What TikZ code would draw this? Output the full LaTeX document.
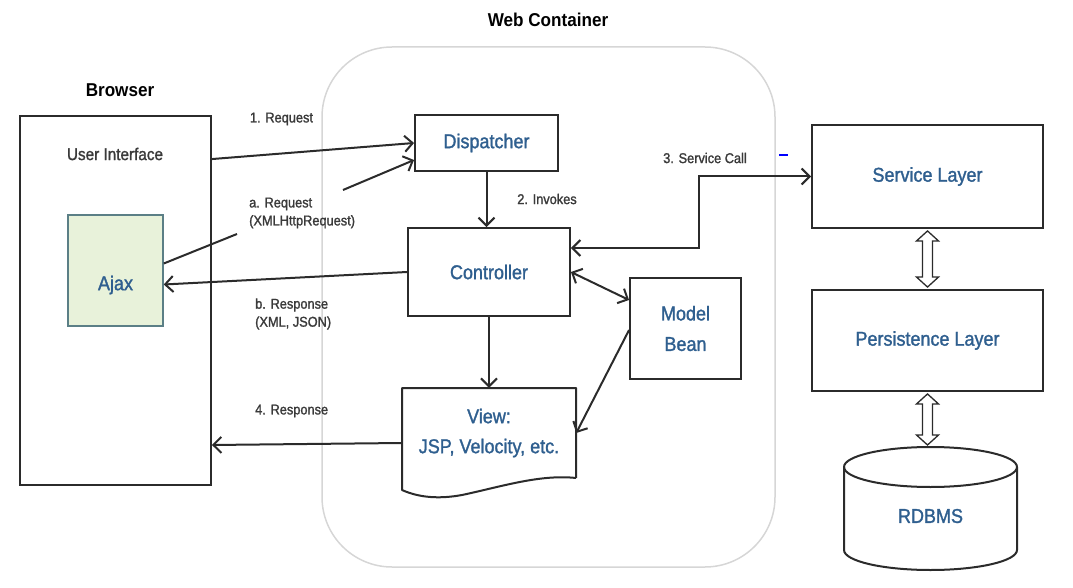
\documentclass[tikz,border=0pt]{standalone}
\usepackage{fontspec}
\setmainfont{Liberation Sans}[FakeStretch=0.92]
\newfontfamily\medfont{Liberation Sans}[FakeStretch=0.9,FakeBold=1.4]
\usetikzlibrary{arrows.meta,calc}
\definecolor{ink}{HTML}{2B2B2B}
\definecolor{lblc}{HTML}{3A3A3A}
\definecolor{nblue}{HTML}{2F5F8F}
\definecolor{ajaxfill}{HTML}{E8F2DA}
\definecolor{ajaxline}{HTML}{5B7F86}
\definecolor{contc}{HTML}{D6D6D6}
\newcommand\hollowdbl[2]{%
  \draw[draw=ink,line width=1.3pt,fill=white] let \p1=(#1), \p2=(#2) in
  (\x1,\y1-2pt) -- (\x1+11pt,\y1-12pt) -- (\x1+5pt,\y1-12pt) -- (\x1+5pt,\y2+12pt)
  -- (\x1+11pt,\y2+12pt) -- (\x1,\y2+2pt) -- (\x1-11pt,\y2+12pt) -- (\x1-5pt,\y2+12pt)
  -- (\x1-5pt,\y1-12pt) -- (\x1-11pt,\y1-12pt) -- cycle;}
\begin{document}
\begin{tikzpicture}[x=1pt,y=-1pt,
  box/.style={draw=ink,line width=1.9pt,fill=white,inner sep=0pt,align=center,
    text=nblue,font=\medfont\fontsize{20}{30.5}\selectfont},
  ntext/.style={text=nblue,font=\medfont\fontsize{20}{30}\selectfont,inner sep=0pt},
  lbl/.style={text=lblc,font=\medfont\fontsize{14.2}{18}\selectfont,inner sep=0pt,align=left},
  ttl/.style={font=\bfseries\fontsize{18.6}{22}\selectfont,text=black,inner sep=0pt},
  arr/.style={draw=ink,line width=2pt,-{Straight Barb[length=8pt,width=16pt]}},
  darr/.style={draw=ink,line width=2pt,{Straight Barb[length=8pt,width=16pt]}-{Straight Barb[length=8pt,width=16pt]}},
  ln/.style={draw=ink,line width=2pt}]
\useasboundingbox (0,0) rectangle (1073,588);

% web container
\draw[contc,line width=1.5pt,rounded corners=70pt] (322,47) rectangle (775,567);
\node[ttl] (wct) at (548,20) {Web Container};

% browser
\node[ttl] (brt) at (120,90) {Browser};
\node[box,minimum width=191pt,minimum height=369pt] (browser) at (115.5,300.5) {};
\node[text=lblc,font=\medfont\fontsize{17}{20}\selectfont,inner sep=0pt] (ui) at (115,154) {User Interface};
\node[box,draw=ajaxline,fill=ajaxfill,line width=1.5pt,minimum width=95pt,minimum height=111pt] (ajax) at (115.5,270.5) {};
\node[ntext] (ajaxt) at (115.5,285) {Ajax};

% web container nodes
\node[box,minimum width=143pt,minimum height=56pt] (disp) at (486.5,143) {Dispatcher};
\node[box,minimum width=162pt,minimum height=88pt] (ctrl) at (489,272) {Controller};
\node[box,minimum width=111pt,minimum height=101pt] (model) at (685.5,328.5) {Model\\Bean};
\node[inner sep=0pt,minimum width=174pt,minimum height=90pt,align=center,text=nblue,
  font=\medfont\fontsize{20}{30}\selectfont] (view) at (489,433) {View:\\JSP, Velocity, etc.};
\draw[ln,line join=round] (576,478) -- (576,388) -- (402,388) -- (402,490)
  .. controls (420,498) and (440,499) .. (462,495)
  .. controls (500,487) and (540,474) .. (576,478);

% right side
\node[box,minimum width=231pt,minimum height=103pt] (svc) at (927.5,176.5) {Service Layer};
\node[box,minimum width=231pt,minimum height=101pt] (per) at (927.5,340.5) {Persistence Layer};
\draw[ln,fill=white] (844,467) -- (844,550) arc[start angle=180,end angle=360,x radius=86.5pt,y radius=20pt]
  -- (1017,467) arc[start angle=0,end angle=180,x radius=86.5pt,y radius=20pt] -- cycle;
\draw[ln] (844,467) arc[start angle=180,end angle=360,x radius=86.5pt,y radius=20pt];
\coordinate (dbtop) at (927.5,447);
\node[ntext] (db) at (930.5,516) {RDBMS};

\hollowdbl{svc.south}{per.north}
\hollowdbl{per.south}{dbtop}

% connectors
\draw[arr] ([yshift=-44pt]browser.north east) -- (disp.west);
\node[lbl] (l1) at (281.5,119) {1. Request};

\coordinate (aR1) at (237,234);
\coordinate (aR2) at (343,190);
\draw[ln] ([yshift=7pt]ajax.east) -- (aR1);
\draw[arr] (aR2) -- ([yshift=-17pt]disp.west);
\node[lbl,anchor=west] (la) at (249,213) {a. Request\\(XMLHttpRequest)};

\draw[arr] (ctrl.west) -- ([yshift=-14pt]ajax.east);
\node[lbl,anchor=west] (lb) at (255,314) {b. Response\\(XML, JSON)};

\draw[arr] (disp.south) -- (disp.south |- ctrl.north);
\node[lbl] (l2) at (547,199) {2. Invokes};

\draw[darr] ([yshift=24pt]ctrl.east) -- ++(128,0) |- (svc.west);
\node[lbl] (l3) at (705,158) {3. Service Call};
\draw[blue,line width=1.5pt] (779,155) -- (788,155);

\draw[darr] (ctrl.east) -- ([yshift=28.5pt]model.west);
\draw[arr] (ctrl.south) -- (view.north);
\draw[arr] ([yshift=-1.5pt]model.west) -- (view.east);

\draw[arr] ([yshift=-10pt]view.west) -- ([yshift=-12pt]view.west -| browser.east);
\node[lbl,anchor=west] (l4) at (255,411) {4. Response};
\end{tikzpicture}
\end{document}
